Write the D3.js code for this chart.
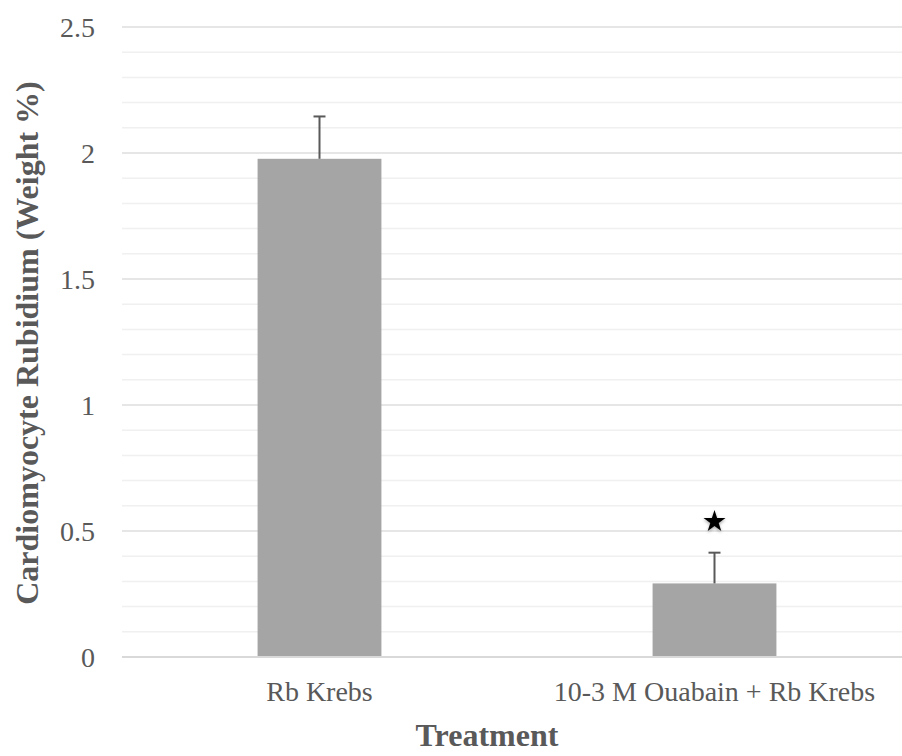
<!DOCTYPE html>
<html>
<head>
<meta charset="utf-8">
<script src="https://cdn.jsdelivr.net/npm/d3@7"></script>
<style>
  body { margin: 0; background: #fff; }
  svg text { font-family: "Liberation Serif", "DejaVu Serif", serif; fill: #595959; }
  .tick-label { font-size: 28px; }
  .axis-title { font-size: 32px; font-weight: bold; }
</style>
</head>
<body>
<div id="chart"></div>
<script>
// chart data
var categories = ["Rb Krebs", "10-3 M Ouabain + Rb Krebs"];
var means = [1.977, 0.292];
var errors = [0.168, 0.122];
var significant = [false, true];
var yTicks = [0, 0.5, 1, 1.5, 2, 2.5];
var yMinorTicks = d3.range(0, 26).map(function(d){ return d / 10; });

var width = 902, height = 756;
var margin = {top: 27, right: -10, bottom: 99, left: 122};

var svg = d3.select("#chart").append("svg")
    .attr("width", width)
    .attr("height", height);

var defs = svg.append("defs");
var shadow = defs.append("filter").attr("id", "shadow")
    .attr("x", "-50%").attr("y", "-50%").attr("width", "200%").attr("height", "200%");
shadow.append("feDropShadow")
    .attr("dx", 0).attr("dy", 1.5).attr("stdDeviation", 1.5)
    .attr("flood-color", "#000").attr("flood-opacity", 0.35);

var x = d3.scaleBand()
    .domain(categories)
    .range([margin.left, width - margin.right])
    .padding(0);

var y = d3.scaleLinear()
    .domain([0, 2.5])
    .range([height - margin.bottom, margin.top]);

var barWidth = x.bandwidth() / 3.19;

// minor gridlines
svg.append("g").selectAll("line")
    .data(yMinorTicks.filter(function(d){ return Math.round(d * 10) % 5 !== 0; }))
    .enter().append("line")
    .attr("x1", margin.left).attr("x2", width)
    .attr("y1", function(d){ return y(d); })
    .attr("y2", function(d){ return y(d); })
    .attr("stroke", "#f0f0f0")
    .attr("stroke-width", 1.5);

// major gridlines
svg.append("g").selectAll("line")
    .data(yTicks.filter(function(d){ return d > 0; }))
    .enter().append("line")
    .attr("x1", margin.left).attr("x2", width)
    .attr("y1", function(d){ return y(d); })
    .attr("y2", function(d){ return y(d); })
    .attr("stroke", "#dedede")
    .attr("stroke-width", 1.5);

// bars
svg.append("g").selectAll("rect")
    .data(categories)
    .enter().append("rect")
    .attr("x", function(d){ return x(d) + x.bandwidth() / 2 - barWidth / 2; })
    .attr("width", barWidth)
    .attr("y", function(d, i){ return y(means[i]); })
    .attr("height", function(d, i){ return y(0) - y(means[i]); })
    .attr("fill", "#a5a5a5");

// baseline
svg.append("line")
    .attr("x1", margin.left).attr("x2", width)
    .attr("y1", y(0)).attr("y2", y(0))
    .attr("stroke", "#d9d9d9")
    .attr("stroke-width", 2);

// error bars (plus side only)
var err = svg.append("g").selectAll("g")
    .data(categories)
    .enter().append("g");

err.append("line")
    .attr("x1", function(d){ return x(d) + x.bandwidth() / 2; })
    .attr("x2", function(d){ return x(d) + x.bandwidth() / 2; })
    .attr("y1", function(d, i){ return y(means[i]); })
    .attr("y2", function(d, i){ return y(means[i] + errors[i]); })
    .attr("stroke", "#595959")
    .attr("stroke-width", 2);

err.append("line")
    .attr("x1", function(d){ return x(d) + x.bandwidth() / 2 - 6; })
    .attr("x2", function(d){ return x(d) + x.bandwidth() / 2 + 6; })
    .attr("y1", function(d, i){ return y(means[i] + errors[i]); })
    .attr("y2", function(d, i){ return y(means[i] + errors[i]); })
    .attr("stroke", "#595959")
    .attr("stroke-width", 2);

// significance star
svg.append("g").selectAll("path")
    .data(categories.filter(function(d, i){ return significant[i]; }))
    .enter().append("path")
    .attr("d", d3.symbol().type(d3.symbolStar).size(150))
    .attr("transform", function(d){
        var i = categories.indexOf(d);
        return "translate(" + (x(d) + x.bandwidth() / 2) + "," + (y(means[i] + errors[i]) - 31) + ")";
    })
    .attr("fill", "#000")
    .attr("filter", "url(#shadow)");

// y tick labels
svg.append("g").selectAll("text")
    .data(yTicks)
    .enter().append("text")
    .attr("class", "tick-label")
    .attr("x", 95)
    .attr("y", function(d){ return y(d); })
    .attr("dy", "0.35em")
    .attr("text-anchor", "end")
    .text(function(d){ return d3.format("")(d); });

// x category labels
svg.append("g").selectAll("text")
    .data(categories)
    .enter().append("text")
    .attr("class", "tick-label")
    .attr("x", function(d){ return x(d) + x.bandwidth() / 2; })
    .attr("y", 701)
    .attr("text-anchor", "middle")
    .text(function(d){ return d; });

// axis titles
svg.append("text")
    .attr("class", "axis-title")
    .attr("x", 487)
    .attr("y", 746)
    .attr("text-anchor", "middle")
    .text("Treatment");

svg.append("text")
    .attr("class", "axis-title")
    .attr("transform", "translate(38," + 343 + ") rotate(-90)")
    .attr("text-anchor", "middle")
    .text("Cardiomyocyte Rubidium (Weight %)");
</script>
</body>
</html>
